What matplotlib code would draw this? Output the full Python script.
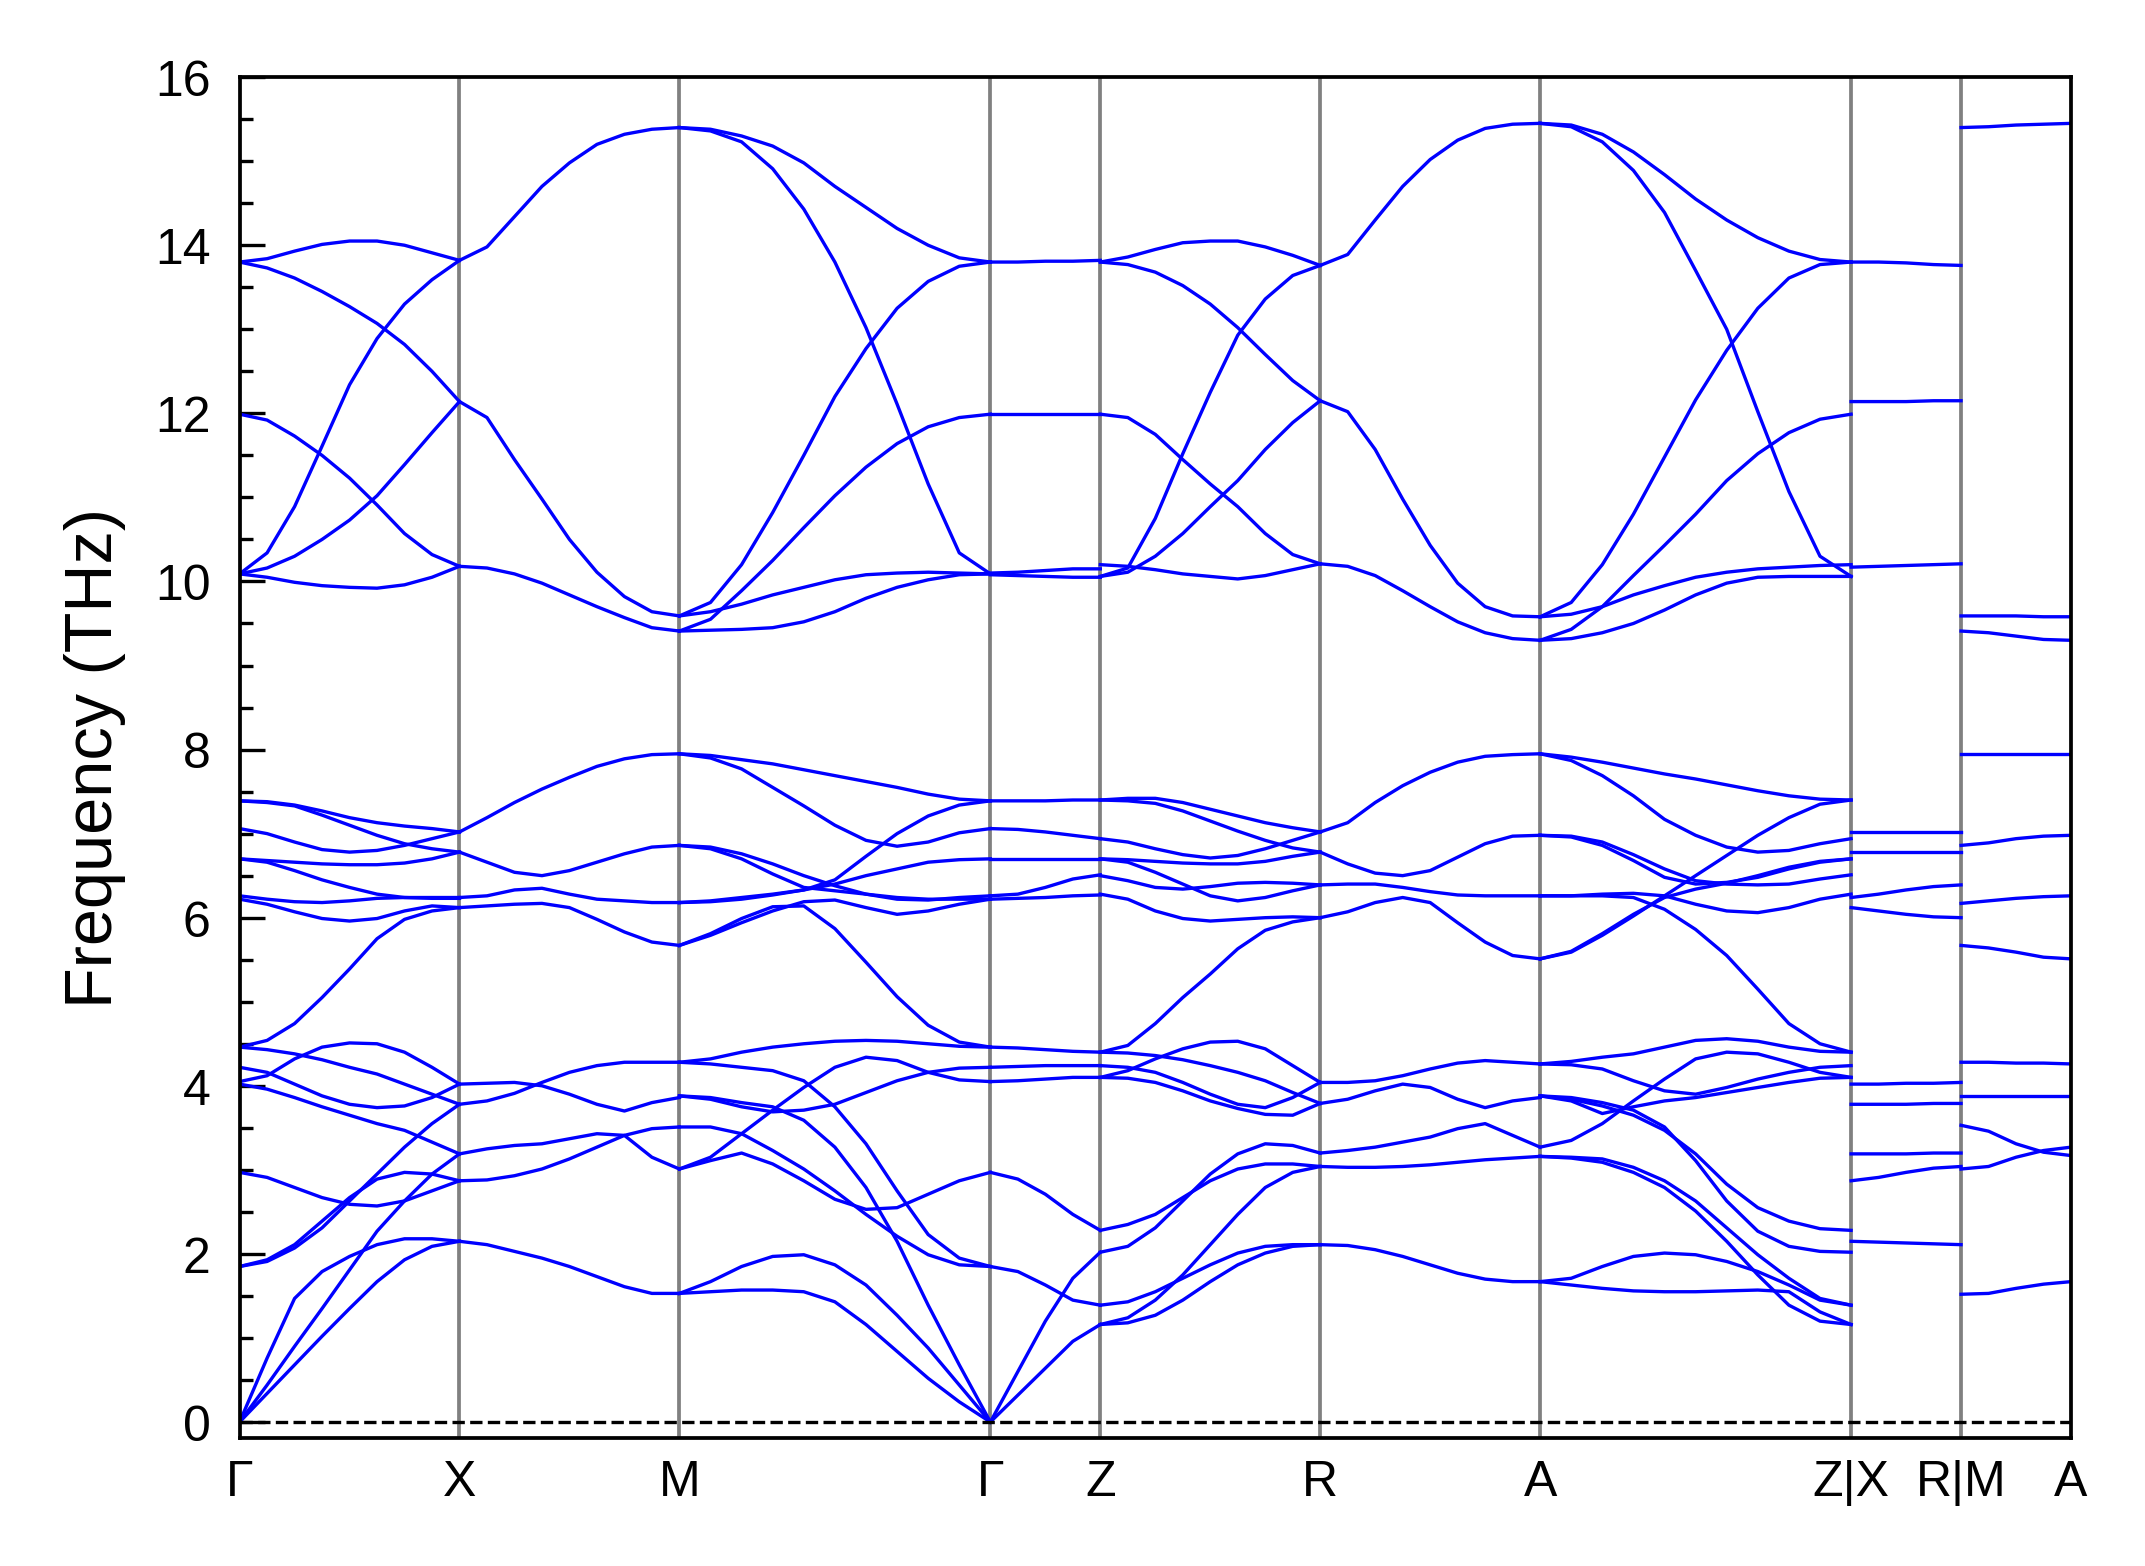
import numpy as np
import matplotlib
matplotlib.use('Agg')
import matplotlib.pyplot as plt

plt.rcParams['font.family'] = ['Liberation Sans', 'DejaVu Sans']

# high-symmetry path, segment lengths in units of |Gamma-X| (c = 2a)
labels = ['Γ', 'X', 'M', 'Γ', 'Z', 'R', 'A', 'Z|X', 'R|M', 'A']
seg_len = [1.0, 1.0, np.sqrt(2), 0.5, 1.0, 1.0, np.sqrt(2), 0.5, 0.5]

# frequencies (THz) read along each segment, equally spaced samples
gamma_x = [
    [13.80, 13.84, 13.93, 14.01, 14.05, 14.05, 14.00, 13.91, 13.82],
    [13.80, 13.73, 13.61, 13.45, 13.27, 13.07, 12.82, 12.50, 12.14],
    [11.99, 11.92, 11.73, 11.50, 11.23, 10.91, 10.57, 10.32, 10.18],
    [10.09, 10.34, 10.89, 11.61, 12.34, 12.89, 13.30, 13.59, 13.82],
    [10.09, 10.16, 10.30, 10.50, 10.73, 11.02, 11.39, 11.77, 12.14],
    [10.09, 10.05, 9.99, 9.95, 9.93, 9.92, 9.96, 10.05, 10.18],
    [7.39, 7.38, 7.34, 7.27, 7.19, 7.13, 7.09, 7.06, 7.02],
    [7.39, 7.37, 7.33, 7.22, 7.10, 6.98, 6.88, 6.82, 6.78],
    [7.06, 7.00, 6.90, 6.81, 6.78, 6.80, 6.86, 6.94, 7.02],
    [6.70, 6.68, 6.66, 6.64, 6.63, 6.63, 6.65, 6.70, 6.78],
    [6.70, 6.66, 6.56, 6.45, 6.36, 6.28, 6.24, 6.23, 6.23],
    [6.26, 6.22, 6.19, 6.18, 6.20, 6.23, 6.24, 6.24, 6.24],
    [6.22, 6.16, 6.07, 5.99, 5.96, 5.99, 6.08, 6.14, 6.12],
    [4.46, 4.54, 4.74, 5.05, 5.39, 5.75, 5.98, 6.08, 6.12],
    [4.46, 4.43, 4.38, 4.31, 4.22, 4.14, 4.02, 3.90, 3.78],
    [4.05, 4.12, 4.32, 4.46, 4.51, 4.50, 4.40, 4.22, 4.02],
    [4.22, 4.16, 4.02, 3.88, 3.78, 3.74, 3.76, 3.86, 4.02],
    [4.02, 3.96, 3.86, 3.75, 3.65, 3.55, 3.47, 3.33, 3.19],
    [2.97, 2.91, 2.79, 2.67, 2.59, 2.57, 2.63, 2.75, 2.87],
    [1.85, 1.93, 2.11, 2.39, 2.67, 2.89, 2.97, 2.95, 2.87],
    [1.85, 1.91, 2.07, 2.31, 2.63, 2.95, 3.27, 3.55, 3.78],
    [0.00, 0.44, 0.90, 1.35, 1.81, 2.27, 2.63, 2.95, 3.19],
    [0.00, 0.76, 1.47, 1.79, 1.97, 2.11, 2.18, 2.18, 2.15],
    [0.00, 0.34, 0.68, 1.02, 1.35, 1.67, 1.93, 2.09, 2.15],
]

x_m = [
    [13.82, 13.98, 14.34, 14.70, 14.98, 15.20, 15.32, 15.38, 15.40],
    [12.14, 11.95, 11.45, 10.98, 10.50, 10.11, 9.82, 9.64, 9.59],
    [10.18, 10.16, 10.09, 9.98, 9.84, 9.70, 9.57, 9.45, 9.41],
    [7.02, 7.19, 7.37, 7.53, 7.67, 7.80, 7.89, 7.94, 7.95],
    [6.78, 6.66, 6.54, 6.50, 6.56, 6.66, 6.76, 6.84, 6.86],
    [6.24, 6.26, 6.33, 6.35, 6.28, 6.22, 6.20, 6.18, 6.18],
    [6.12, 6.14, 6.16, 6.17, 6.12, 5.98, 5.83, 5.71, 5.67],
    [3.78, 3.82, 3.91, 4.04, 4.16, 4.24, 4.28, 4.28, 4.28],
    [4.02, 4.03, 4.04, 4.00, 3.90, 3.78, 3.70, 3.80, 3.86],
    [3.19, 3.25, 3.29, 3.31, 3.37, 3.43, 3.41, 3.15, 3.01],
    [2.87, 2.88, 2.93, 3.01, 3.13, 3.27, 3.41, 3.49, 3.51],
    [2.15, 2.11, 2.03, 1.95, 1.85, 1.73, 1.61, 1.53, 1.53],
]

m_gamma = [
    [15.40, 15.38, 15.30, 15.18, 14.98, 14.70, 14.45, 14.20, 14.00, 13.85, 13.80],
    [15.40, 15.36, 15.23, 14.91, 14.43, 13.80, 13.02, 12.11, 11.16, 10.34, 10.09],
    [9.59, 9.75, 10.20, 10.82, 11.50, 12.20, 12.77, 13.25, 13.57, 13.75, 13.80],
    [9.41, 9.55, 9.89, 10.25, 10.64, 11.02, 11.36, 11.64, 11.84, 11.95, 11.99],
    [9.59, 9.64, 9.73, 9.84, 9.93, 10.02, 10.08, 10.10, 10.11, 10.10, 10.09],
    [9.41, 9.42, 9.43, 9.45, 9.52, 9.64, 9.80, 9.93, 10.02, 10.08, 10.09],
    [7.95, 7.93, 7.88, 7.83, 7.76, 7.69, 7.62, 7.55, 7.47, 7.41, 7.39],
    [7.95, 7.90, 7.77, 7.55, 7.33, 7.10, 6.92, 6.85, 6.90, 7.01, 7.06],
    [6.18, 6.19, 6.22, 6.27, 6.33, 6.45, 6.73, 7.00, 7.21, 7.34, 7.39],
    [5.67, 5.79, 5.94, 6.08, 6.19, 6.21, 6.12, 6.04, 6.08, 6.16, 6.22],
    [5.67, 5.81, 5.99, 6.13, 6.14, 5.87, 5.47, 5.06, 4.72, 4.52, 4.46],
    [6.18, 6.20, 6.24, 6.28, 6.33, 6.40, 6.50, 6.58, 6.66, 6.69, 6.70],
    [6.86, 6.84, 6.76, 6.64, 6.50, 6.38, 6.28, 6.22, 6.21, 6.24, 6.26],
    [6.86, 6.82, 6.70, 6.52, 6.36, 6.32, 6.28, 6.24, 6.22, 6.22, 6.22],
    [4.28, 4.32, 4.40, 4.46, 4.50, 4.53, 4.54, 4.53, 4.50, 4.47, 4.46],
    [4.28, 4.26, 4.22, 4.18, 4.06, 3.75, 3.31, 2.75, 2.23, 1.95, 1.85],
    [3.88, 3.84, 3.75, 3.69, 3.71, 3.78, 3.92, 4.06, 4.16, 4.21, 4.22],
    [3.88, 3.86, 3.80, 3.75, 3.59, 3.27, 2.79, 2.15, 1.39, 0.68, 0.00],
    [3.51, 3.51, 3.43, 3.23, 3.01, 2.75, 2.47, 2.21, 1.99, 1.87, 1.85],
    [3.01, 3.11, 3.20, 3.07, 2.87, 2.65, 2.53, 2.55, 2.71, 2.87, 2.97],
    [3.01, 3.15, 3.43, 3.71, 3.98, 4.22, 4.34, 4.30, 4.16, 4.07, 4.05],
    [1.53, 1.55, 1.57, 1.57, 1.55, 1.43, 1.16, 0.84, 0.52, 0.24, 0.00],
    [1.53, 1.67, 1.85, 1.97, 1.99, 1.87, 1.63, 1.27, 0.88, 0.44, 0.00],
]

gamma_z = [
    [13.80, 13.80, 13.81, 13.81, 13.82],
    [11.99, 11.99, 11.99, 11.99, 11.99],
    [10.10, 10.11, 10.13, 10.15, 10.15],
    [10.08, 10.07, 10.06, 10.05, 10.05],
    [7.39, 7.39, 7.39, 7.40, 7.40],
    [7.06, 7.05, 7.02, 6.98, 6.94],
    [6.70, 6.70, 6.70, 6.70, 6.70],
    [6.26, 6.28, 6.36, 6.46, 6.51],
    [6.22, 6.23, 6.24, 6.26, 6.27],
    [4.46, 4.45, 4.43, 4.41, 4.40],
    [4.22, 4.23, 4.24, 4.24, 4.24],
    [4.05, 4.06, 4.08, 4.10, 4.10],
    [2.97, 2.89, 2.71, 2.47, 2.28],
    [1.85, 1.79, 1.63, 1.45, 1.39],
    [0.00, 0.60, 1.20, 1.71, 2.02],
    [0.00, 0.32, 0.64, 0.96, 1.16],
]

z_r = [
    [13.80, 13.86, 13.95, 14.03, 14.05, 14.05, 13.98, 13.88, 13.76],
    [13.80, 13.77, 13.68, 13.52, 13.30, 13.02, 12.70, 12.39, 12.15],
    [11.99, 11.95, 11.75, 11.45, 11.16, 10.89, 10.57, 10.32, 10.21],
    [10.06, 10.16, 10.75, 11.52, 12.25, 12.93, 13.36, 13.64, 13.76],
    [10.06, 10.11, 10.30, 10.57, 10.89, 11.20, 11.57, 11.89, 12.15],
    [10.20, 10.18, 10.14, 10.09, 10.06, 10.03, 10.07, 10.14, 10.21],
    [7.40, 7.42, 7.42, 7.37, 7.29, 7.21, 7.13, 7.07, 7.02],
    [7.40, 7.39, 7.36, 7.27, 7.15, 7.03, 6.92, 6.83, 6.78],
    [6.94, 6.90, 6.82, 6.75, 6.71, 6.74, 6.82, 6.92, 7.02],
    [6.70, 6.69, 6.67, 6.65, 6.64, 6.64, 6.67, 6.73, 6.78],
    [6.70, 6.66, 6.54, 6.40, 6.26, 6.20, 6.24, 6.32, 6.39],
    [6.50, 6.44, 6.36, 6.34, 6.37, 6.41, 6.42, 6.41, 6.39],
    [6.28, 6.22, 6.08, 5.99, 5.96, 5.98, 6.00, 6.01, 6.00],
    [4.40, 4.48, 4.74, 5.05, 5.33, 5.63, 5.85, 5.95, 6.00],
    [4.40, 4.39, 4.36, 4.31, 4.24, 4.16, 4.06, 3.92, 3.79],
    [4.24, 4.22, 4.16, 4.04, 3.90, 3.78, 3.74, 3.86, 4.04],
    [4.10, 4.09, 4.04, 3.94, 3.82, 3.73, 3.66, 3.65, 3.79],
    [4.10, 4.18, 4.32, 4.44, 4.52, 4.53, 4.44, 4.24, 4.04],
    [2.28, 2.35, 2.47, 2.67, 2.87, 3.01, 3.07, 3.07, 3.04],
    [2.02, 2.09, 2.31, 2.63, 2.95, 3.19, 3.31, 3.29, 3.20],
    [1.16, 1.24, 1.45, 1.75, 2.11, 2.47, 2.79, 2.97, 3.04],
    [1.39, 1.43, 1.55, 1.71, 1.87, 2.01, 2.09, 2.11, 2.11],
    [1.16, 1.18, 1.27, 1.45, 1.67, 1.87, 2.01, 2.09, 2.11],
]

r_a = [
    [13.76, 13.89, 14.30, 14.70, 15.02, 15.25, 15.39, 15.44, 15.45],
    [12.15, 12.02, 11.57, 10.98, 10.43, 9.98, 9.70, 9.59, 9.58],
    [10.21, 10.18, 10.07, 9.89, 9.70, 9.52, 9.39, 9.32, 9.30],
    [7.02, 7.13, 7.37, 7.57, 7.73, 7.85, 7.92, 7.94, 7.95],
    [6.78, 6.64, 6.53, 6.50, 6.56, 6.72, 6.88, 6.97, 6.98],
    [6.39, 6.40, 6.40, 6.36, 6.31, 6.27, 6.26, 6.26, 6.26],
    [6.00, 6.07, 6.18, 6.24, 6.18, 5.94, 5.71, 5.55, 5.51],
    [4.04, 4.04, 4.06, 4.12, 4.20, 4.27, 4.30, 4.28, 4.26],
    [3.79, 3.84, 3.94, 4.02, 3.98, 3.84, 3.74, 3.82, 3.86],
    [3.20, 3.23, 3.27, 3.33, 3.39, 3.49, 3.55, 3.41, 3.27],
    [3.04, 3.03, 3.03, 3.04, 3.06, 3.09, 3.12, 3.14, 3.16],
    [2.11, 2.10, 2.05, 1.97, 1.87, 1.77, 1.70, 1.67, 1.67],
]

a_z = [
    [15.45, 15.43, 15.32, 15.11, 14.84, 14.55, 14.30, 14.09, 13.93, 13.83, 13.80],
    [15.45, 15.41, 15.23, 14.89, 14.39, 13.70, 13.00, 12.02, 11.07, 10.30, 10.06],
    [9.58, 9.75, 10.20, 10.80, 11.48, 12.16, 12.75, 13.25, 13.61, 13.77, 13.80],
    [9.30, 9.43, 9.70, 10.07, 10.43, 10.80, 11.20, 11.52, 11.77, 11.93, 11.99],
    [9.58, 9.61, 9.70, 9.84, 9.95, 10.05, 10.11, 10.15, 10.17, 10.19, 10.20],
    [9.30, 9.32, 9.39, 9.50, 9.66, 9.84, 9.98, 10.05, 10.06, 10.06, 10.06],
    [7.95, 7.91, 7.85, 7.78, 7.71, 7.65, 7.58, 7.51, 7.45, 7.41, 7.40],
    [7.95, 7.87, 7.69, 7.45, 7.17, 6.98, 6.84, 6.78, 6.80, 6.88, 6.94],
    [6.98, 6.97, 6.90, 6.75, 6.58, 6.44, 6.40, 6.39, 6.40, 6.46, 6.51],
    [6.98, 6.96, 6.86, 6.68, 6.48, 6.40, 6.42, 6.48, 6.58, 6.66, 6.70],
    [5.51, 5.59, 5.79, 6.02, 6.26, 6.50, 6.74, 6.98, 7.19, 7.35, 7.40],
    [5.51, 5.60, 5.81, 6.04, 6.24, 6.34, 6.41, 6.50, 6.60, 6.67, 6.70],
    [6.26, 6.26, 6.28, 6.29, 6.26, 6.16, 6.08, 6.06, 6.12, 6.22, 6.28],
    [6.26, 6.26, 6.26, 6.24, 6.10, 5.86, 5.55, 5.15, 4.74, 4.50, 4.40],
    [4.26, 4.29, 4.34, 4.38, 4.46, 4.54, 4.56, 4.53, 4.46, 4.41, 4.40],
    [4.26, 4.25, 4.20, 4.06, 3.94, 3.90, 3.98, 4.08, 4.16, 4.22, 4.24],
    [3.88, 3.82, 3.67, 3.75, 3.82, 3.86, 3.92, 3.98, 4.04, 4.09, 4.10],
    [3.27, 3.35, 3.55, 3.82, 4.08, 4.32, 4.40, 4.38, 4.28, 4.16, 4.10],
    [3.88, 3.84, 3.76, 3.65, 3.47, 3.19, 2.83, 2.55, 2.39, 2.30, 2.28],
    [3.88, 3.86, 3.80, 3.71, 3.51, 3.11, 2.63, 2.27, 2.09, 2.03, 2.02],
    [3.16, 3.15, 3.13, 3.03, 2.87, 2.63, 2.31, 1.99, 1.71, 1.47, 1.39],
    [3.16, 3.14, 3.09, 2.97, 2.79, 2.51, 2.15, 1.75, 1.39, 1.20, 1.16],
    [1.67, 1.71, 1.85, 1.97, 2.01, 1.99, 1.91, 1.79, 1.63, 1.45, 1.39],
    [1.67, 1.63, 1.59, 1.56, 1.55, 1.55, 1.56, 1.57, 1.55, 1.31, 1.16],
]

x_r = [
    [13.80, 13.80, 13.79, 13.77, 13.76],
    [12.14, 12.14, 12.14, 12.15, 12.15],
    [10.17, 10.18, 10.19, 10.20, 10.21],
    [7.02, 7.02, 7.02, 7.02, 7.02],
    [6.78, 6.78, 6.78, 6.78, 6.78],
    [6.24, 6.28, 6.33, 6.37, 6.39],
    [6.12, 6.08, 6.04, 6.01, 6.00],
    [4.02, 4.02, 4.03, 4.03, 4.04],
    [3.78, 3.78, 3.78, 3.79, 3.79],
    [3.19, 3.19, 3.19, 3.20, 3.20],
    [2.87, 2.91, 2.97, 3.02, 3.04],
    [2.15, 2.14, 2.13, 2.12, 2.11],
]

m_a = [
    [15.40, 15.41, 15.43, 15.44, 15.45],
    [9.59, 9.59, 9.59, 9.58, 9.58],
    [9.41, 9.39, 9.35, 9.31, 9.30],
    [7.95, 7.95, 7.95, 7.95, 7.95],
    [6.86, 6.89, 6.94, 6.97, 6.98],
    [6.17, 6.20, 6.23, 6.25, 6.26],
    [5.67, 5.64, 5.59, 5.53, 5.51],
    [4.28, 4.28, 4.27, 4.27, 4.26],
    [3.88, 3.88, 3.88, 3.88, 3.88],
    [3.53, 3.46, 3.31, 3.21, 3.17],
    [3.01, 3.04, 3.15, 3.23, 3.27],
    [1.52, 1.53, 1.59, 1.64, 1.67],
]

segments = [gamma_x, x_m, m_gamma, gamma_z, z_r, r_a, a_z, x_r, m_a]

ticks = np.concatenate([[0], np.cumsum(seg_len)])

fig = plt.figure(figsize=(7.15, 5.223), dpi=300)
ax = fig.add_axes([0.1117, 0.0817, 0.8538, 0.8685])

for i, curves in enumerate(segments):
    for c in curves:
        x = np.linspace(ticks[i], ticks[i + 1], len(c))
        ax.plot(x, c, color='blue', lw=0.8, solid_joinstyle='round')

for t in ticks[1:-1]:
    ax.axvline(t, color='gray', lw=0.9, zorder=0)
ax.axhline(0, color='black', ls='--', lw=0.8)

ax.set_xlim(ticks[0], ticks[-1])
ax.set_ylim(-0.19, 16)
ax.set_xticks(ticks)
ax.set_xticklabels(labels, fontsize=12)
ax.tick_params(axis='x', length=0, pad=5)
ax.set_yticks(np.arange(0, 17, 2))
ax.set_yticks(np.arange(0, 16.1, 0.5), minor=True)
ax.tick_params(axis='y', which='major', direction='in', length=6, width=0.8,
               labelsize=12, pad=7)
ax.tick_params(axis='y', which='minor', direction='in', length=3, width=0.8)
ax.set_ylabel('Frequency (THz)', fontsize=16, labelpad=7)
for s in ax.spines.values():
    s.set_linewidth(0.9)

fig.savefig('out.png', dpi=300)
